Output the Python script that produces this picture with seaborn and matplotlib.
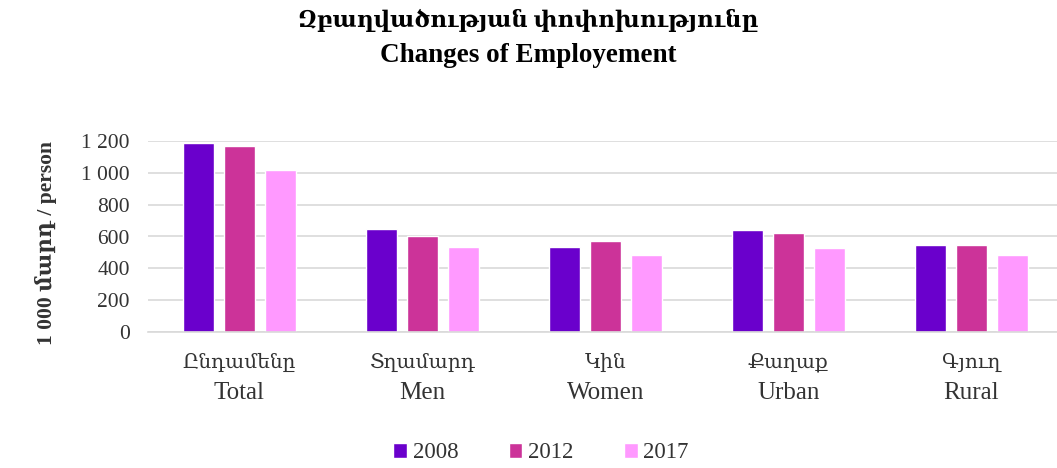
import matplotlib
matplotlib.use("Agg")
import matplotlib.pyplot as plt
import seaborn as sns
import pandas as pd
from matplotlib.ticker import FuncFormatter

# Employment by group, thousand persons
cat_hy = ["Ընդամենը", "Տղամարդ", "Կին", "Քաղաք", "Գյուղ"]
cat_en = ["Total", "Men", "Women", "Urban", "Rural"]
years = ["2008", "2012", "2017"]
v2008 = [1187, 647, 537, 640, 546]
v2012 = [1171, 600, 571, 625, 548]
v2017 = [1015, 531, 483, 529, 483]
colors = ["#6A00CC", "#CC3399", "#FF99FF"]

rows = []
for year, vals in zip(years, [v2008, v2012, v2017]):
    for cat, v in zip(cat_en, vals):
        rows.append({"category": cat, "year": year, "value": v})
df = pd.DataFrame(rows)

sns.set_theme(style="white")
plt.rcParams["font.family"] = ["Liberation Serif", "DejaVu Serif"]
text_color = "#333333"

W, H = 1057, 468
fig = plt.figure(figsize=(W / 100, H / 100), dpi=100)
ax = fig.add_axes([148 / W, 1 - 332 / H, 915 / W, 191 / H])

sns.barplot(data=df, x="category", y="value", hue="year", order=cat_en,
            hue_order=years, palette=colors, saturation=1, width=0.672, gap=0.22,
            errorbar=None, ax=ax)

ax.set_ylim(0, 1200)
ax.set_yticks(range(0, 1201, 200))
ax.yaxis.set_major_formatter(FuncFormatter(lambda v, p: f"{int(v):,}".replace(",", " ")))
ax.yaxis.grid(True, color="#D9D9D9", lw=1.2)
ax.set_axisbelow(True)
for s in ["top", "left", "right"]:
    ax.spines[s].set_visible(False)
ax.spines["bottom"].set_color("#D9D9D9")
ax.spines["bottom"].set_linewidth(1.2)
ax.tick_params(axis="y", length=0, pad=13, labelsize=15.5, labelcolor=text_color)
ax.tick_params(axis="x", length=0)
ax.set_xlabel("")
ax.set_ylabel("")

# Two-line bilingual category labels under each group
ticks = ax.get_xticks()
ax.set_xticklabels([])
for x, hy, en in zip(ticks, cat_hy, cat_en):
    ax.annotate(hy, xy=(x, 0), xycoords=("data", "axes fraction"),
                xytext=(0, -31 * 0.72), textcoords="offset points",
                ha="center", va="center", fontsize=14.5, color=text_color,
                annotation_clip=False)
    ax.annotate(en, xy=(x, 0), xycoords=("data", "axes fraction"),
                xytext=(0, -61 * 0.72), textcoords="offset points",
                ha="center", va="center", fontsize=18, color=text_color,
                annotation_clip=False)

fig.text(46 / W, 1 - 243 / H, "1 000 մարդ / person", rotation=90, ha="center",
         va="center", fontsize=15.5, fontweight="bold", color=text_color)

fig.text(0.5, 1 - 20 / H, "Զբաղվածության փոփոխությունը", ha="center", va="center",
         fontsize=16.5, fontweight="bold", color="black")
fig.text(0.5, 1 - 55 / H, "Changes of Employement", ha="center", va="center",
         fontsize=19.5, fontweight="bold", color="black")

handles, labels = ax.get_legend_handles_labels()
ax.legend_.remove()
fig.legend(handles, labels, loc="center", bbox_to_anchor=(541 / W, 1 - 453 / H),
           ncol=3, frameon=False, fontsize=16.5, handlelength=0.6, handleheight=0.6,
           handletextpad=0.25, columnspacing=2.2, labelcolor=text_color)

fig.savefig("out.png", dpi=100)
